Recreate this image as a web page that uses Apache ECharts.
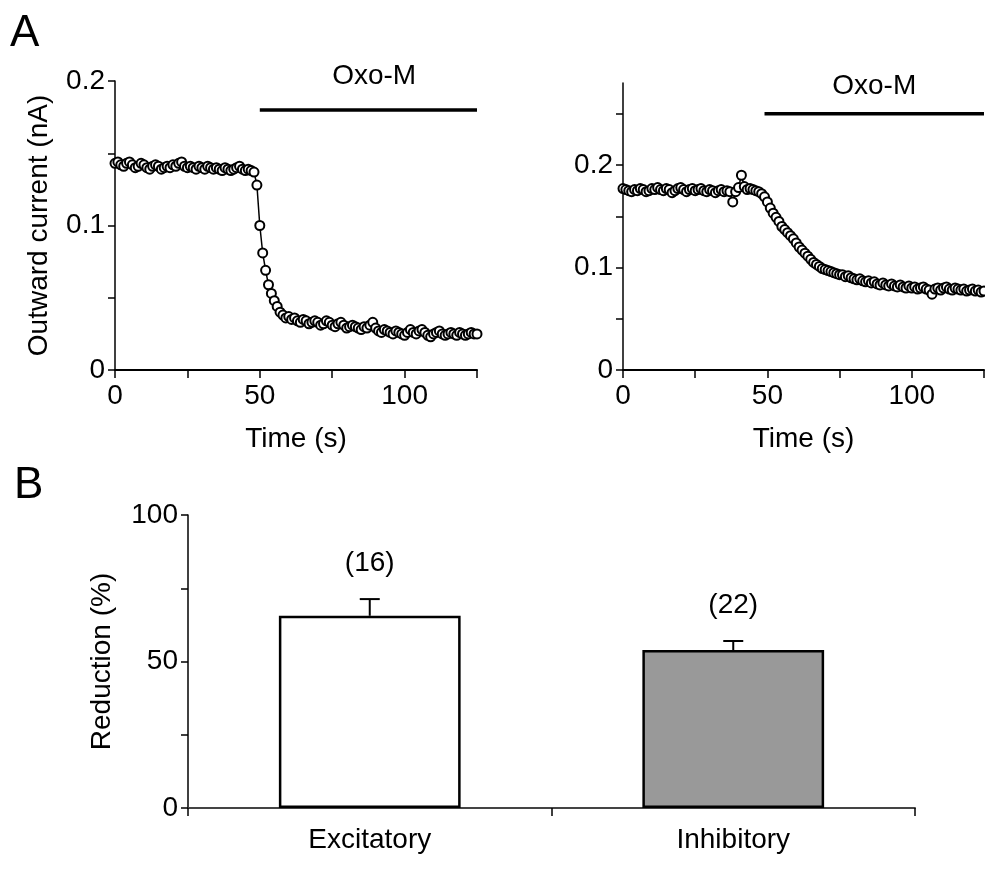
<!DOCTYPE html>
<html>
<head>
<meta charset="utf-8">
<script src="https://cdn.jsdelivr.net/npm/echarts@6/dist/echarts.min.js"></script>
<style>html,body{margin:0;padding:0;background:#fff}#c{width:985px;height:870px}</style>
</head>
<body>
<div id="c"></div>
<script>
// ---- Data ----
const timeLeft = Array.from({length:126},(_, i)=>i); // sample times (s), 1 s spacing
const currentLeft = [
0.143,0.144,0.142,0.141,0.143,0.144,0.142,0.140,0.141,0.143,
0.142,0.140,0.139,0.141,0.142,0.141,0.139,0.140,0.141,0.140,
0.142,0.141,0.143,0.144,0.141,0.140,0.141,0.140,0.139,0.141,
0.140,0.139,0.141,0.140,0.139,0.140,0.139,0.138,0.140,0.139,
0.138,0.139,0.140,0.141,0.139,0.138,0.139,0.138,0.137,0.128,
0.100,0.081,0.069,0.059,0.053,0.048,0.044,0.040,0.038,0.036,
0.037,0.035,0.036,0.034,0.033,0.035,0.034,0.032,0.033,0.034,
0.033,0.031,0.032,0.034,0.033,0.031,0.030,0.032,0.033,0.031,
0.029,0.030,0.031,0.030,0.029,0.028,0.030,0.029,0.031,0.033,
0.029,0.027,0.026,0.028,0.027,0.026,0.025,0.027,0.026,0.025,
0.024,0.026,0.028,0.026,0.025,0.027,0.028,0.026,0.024,0.023,
0.025,0.026,0.027,0.025,0.024,0.025,0.026,0.025,0.024,0.026,
0.025,0.024,0.025,0.026,0.025,0.025];
const timeRight = Array.from({length:126},(_, i)=>i);
const currentRight = [
0.177,0.176,0.175,0.174,0.176,0.175,0.177,0.176,0.174,0.175,
0.177,0.176,0.178,0.176,0.175,0.177,0.176,0.173,0.175,0.177,
0.178,0.176,0.174,0.176,0.177,0.175,0.176,0.177,0.175,0.174,
0.176,0.175,0.173,0.175,0.176,0.174,0.175,0.174,0.164,0.174,
0.178,0.190,0.179,0.176,0.177,0.176,0.175,0.174,0.172,0.169,
0.164,0.158,0.153,0.149,0.145,0.140,0.137,0.134,0.131,0.128,
0.124,0.120,0.117,0.114,0.111,0.108,0.105,0.103,0.101,0.099,
0.098,0.097,0.096,0.095,0.094,0.093,0.093,0.091,0.092,0.090,
0.089,0.088,0.089,0.087,0.086,0.087,0.085,0.086,0.084,0.083,
0.085,0.083,0.082,0.084,0.082,0.081,0.083,0.081,0.080,0.082,
0.080,0.081,0.079,0.080,0.081,0.079,0.078,0.074,0.079,0.080,
0.078,0.080,0.081,0.079,0.078,0.080,0.079,0.078,0.079,0.077,
0.078,0.079,0.077,0.078,0.076,0.077];
const drugLeft = [[50,0.18],[125,0.18]];
const drugRight = [[49,0.25],[125,0.25]];
const drugLabel = 'Oxo-M';
const timeTicks = [0,25,50,75,100,125];
const timeLabels = [0,50,100];
const leftYTicks = [0,0.05,0.1,0.15,0.2];
const rightYTicks = [0,0.05,0.1,0.15,0.2,0.25];
const currentLabels = [0,0.1,0.2];
const cellTypes = ['Excitatory','Inhibitory'];
const reductionMean = [65.6, 53.9];
const reductionSem = [5.7, 3.1];
const cellCounts = ['(16)','(22)'];
const reductionTicks = [0,25,50,75,100];
const reductionLabels = [0,50,100];

// ---- Chart ----
const FONT = '"Liberation Sans", Arial, sans-serif';
const chart = echarts.init(document.getElementById('c'), null, {renderer:'canvas'});
const axisTxt = {color:'#000', fontSize:28, fontFamily:FONT};
function valAxis(extra){
  return Object.assign({
    type:'value',
    axisLine:{show:true, onZero:false, lineStyle:{color:'#000', width:1.5}},
    axisTick:{show:true, length:7, lineStyle:{color:'#000', width:1.5}},
    splitLine:{show:false},
    nameTextStyle:axisTxt
  }, extra);
}
const pts = (xs, ys) => xs.map((x,i)=>[x, ys[i]]);
const traceStyle = {
  type:'line', symbol:'circle', symbolSize:9, showSymbol:true,
  lineStyle:{color:'#000', width:1.5},
  itemStyle:{color:'#fff', borderColor:'#000', borderWidth:2},
  animation:false, clip:false, z:3
};
const labelStyle = {show:true, position:'top', formatter:drugLabel, color:'#000', opacity:1, fontSize:28, fontFamily:FONT};

chart.setOption({
  animation:false,
  backgroundColor:'#fff',
  textStyle:{fontFamily:FONT},
  graphic:[
    {type:'text', left:10, top:12, style:{text:'A', fontSize:44, fontFamily:FONT, fill:'#000'}},
    {type:'text', left:14, top:464, style:{text:'B', fontSize:44, fontFamily:FONT, fill:'#000'}}
  ],
  grid:[
    {left:115, top:81, width:362, height:289},
    {left:623, top:83, width:361, height:287},
    {left:188, top:515, width:727, height:293}
  ],
  xAxis:[
    valAxis({gridIndex:0, min:0, max:125, name:'Time (s)', nameLocation:'middle', nameGap:55,
      axisLine:{show:true, onZero:false, lineStyle:{color:'#000', width:2}},
      axisTick:{show:true, length:8, customValues:timeTicks, lineStyle:{color:'#000', width:1.5}},
      axisLabel:Object.assign({margin:12, customValues:timeLabels}, axisTxt)}),
    valAxis({gridIndex:1, min:0, max:125, name:'Time (s)', nameLocation:'middle', nameGap:55,
      axisLine:{show:true, onZero:false, lineStyle:{color:'#000', width:2}},
      axisTick:{show:true, length:8, customValues:timeTicks, lineStyle:{color:'#000', width:1.5}},
      axisLabel:Object.assign({margin:12, customValues:timeLabels}, axisTxt)}),
    {gridIndex:2, type:'category', data:cellTypes,
      axisLine:{show:true, lineStyle:{color:'#444', width:2}},
      axisTick:{show:true, length:8, alignWithLabel:false, lineStyle:{color:'#000', width:1.5}},
      axisLabel:Object.assign({margin:18}, axisTxt)}
  ],
  yAxis:[
    valAxis({gridIndex:0, min:0, max:0.2, name:'Outward current (nA)', nameLocation:'middle', nameGap:62,
      axisTick:{show:true, length:7, customValues:leftYTicks, lineStyle:{color:'#000', width:1.5}},
      axisLabel:Object.assign({margin:10, customValues:currentLabels}, axisTxt)}),
    valAxis({gridIndex:1, min:0, max:0.28,
      axisTick:{show:true, length:7, customValues:rightYTicks, lineStyle:{color:'#000', width:1.5}},
      axisLabel:Object.assign({margin:10, customValues:currentLabels}, axisTxt)}),
    valAxis({gridIndex:2, min:0, max:100, name:'Reduction (%)', nameLocation:'middle', nameGap:72,
      axisTick:{show:true, length:7, customValues:reductionTicks, lineStyle:{color:'#000', width:1.5}},
      axisLabel:Object.assign({margin:10, customValues:reductionLabels}, axisTxt)})
  ],
  series:[
    Object.assign({}, traceStyle, {xAxisIndex:0, yAxisIndex:0, data:pts(timeLeft, currentLeft)}),
    Object.assign({}, traceStyle, {xAxisIndex:1, yAxisIndex:1, data:pts(timeRight, currentRight)}),
    {type:'line', xAxisIndex:0, yAxisIndex:0, data:drugLeft, symbol:'none', clip:false,
      lineStyle:{color:'#000', width:3.5}},
    {type:'line', xAxisIndex:1, yAxisIndex:1, data:drugRight, symbol:'none', clip:false,
      lineStyle:{color:'#000', width:3.5}},
    {type:'scatter', xAxisIndex:0, yAxisIndex:0, symbolSize:0, silent:true,
      itemStyle:{opacity:1},
      data:[[(drugLeft[0][0]+drugLeft[1][0])/2 + 2, drugLeft[0][1]]],
      label:Object.assign({distance:20}, labelStyle)},
    {type:'scatter', xAxisIndex:1, yAxisIndex:1, symbolSize:0, silent:true,
      itemStyle:{opacity:1},
      data:[[(drugRight[0][0]+drugRight[1][0])/2, drugRight[0][1]]],
      label:Object.assign({distance:13}, labelStyle)},
    {type:'bar', xAxisIndex:2, yAxisIndex:2, barWidth:'50%',
      data:reductionMean.map((v,i)=>({value:v, itemStyle:{color: i===0?'#ffffff':'#999999'}})),
      itemStyle:{borderColor:'#000', borderWidth:2.5}, z:2},
    {type:'custom', xAxisIndex:2, yAxisIndex:2, z:4,
      data:reductionMean.map((v,i)=>[i, v, reductionSem[i]]),
      renderItem:function(params, api){
        const i = api.value(0), m = api.value(1), s = api.value(2);
        const base = api.coord([i, m]);
        const top = api.coord([i, m + s]);
        const half = 10;
        return {type:'group', children:[
          {type:'line', shape:{x1:base[0], y1:base[1], x2:top[0], y2:top[1]}, style:{stroke:'#000', lineWidth:2}},
          {type:'line', shape:{x1:top[0]-half, y1:top[1], x2:top[0]+half, y2:top[1]}, style:{stroke:'#000', lineWidth:2}},
          {type:'text', x:top[0], y:top[1]-36, style:{text:cellCounts[params.dataIndex], fill:'#000', fontSize:28, fontFamily:FONT, align:'center', verticalAlign:'middle'}}
        ]};
      }
    }
  ]
});
</script>
</body>
</html>
